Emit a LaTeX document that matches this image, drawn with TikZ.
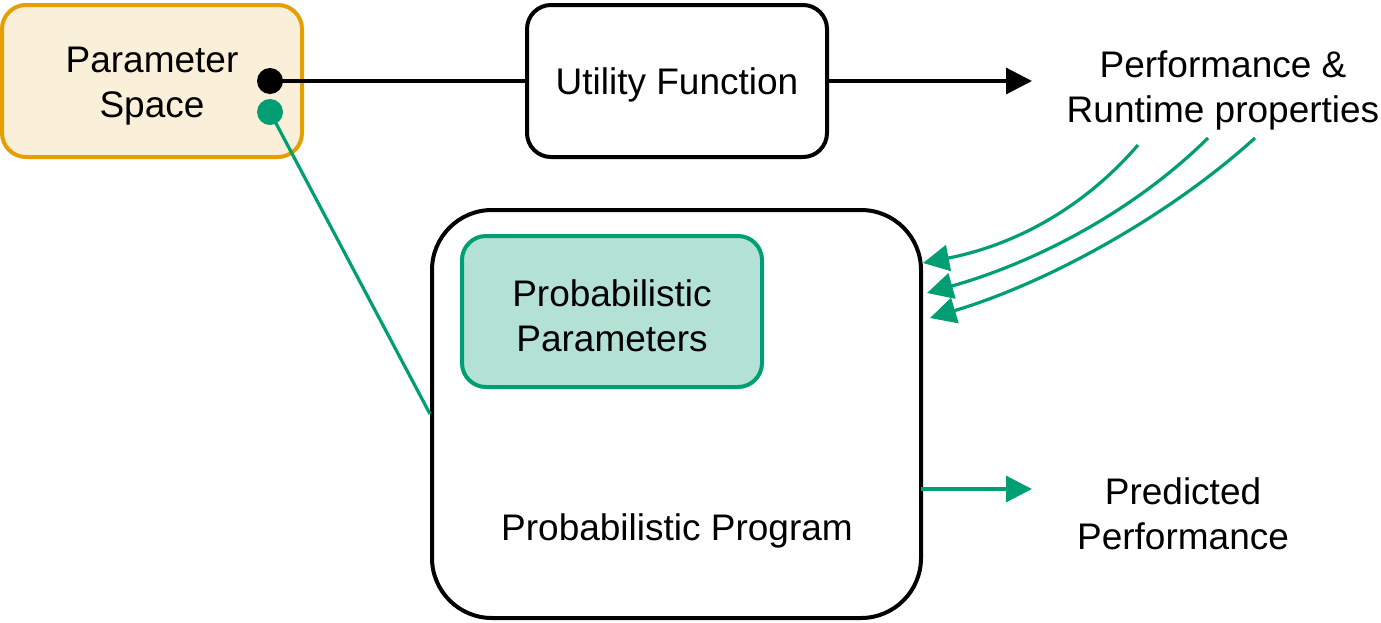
\documentclass[tikz,border=0pt]{standalone}
\usepackage{fontspec}
\setmainfont{Liberation Sans}
\usetikzlibrary{arrows.meta}
\definecolor{paramfill}{HTML}{FAF0DA}
\definecolor{paramedge}{HTML}{E69F00}
\definecolor{mint}{HTML}{B3E2D5}
\definecolor{leaf}{HTML}{009E73}
\begin{document}
\begin{tikzpicture}[x=0.5pt,y=-0.5pt,
  every node/.style={font=\fontsize{18.5}{22.5}\selectfont, align=center},
  box/.style={draw, line width=2pt, rounded corners=12pt, inner sep=0pt},
  label/.style={yshift=-2pt},
  dotnode/.style={circle, inner sep=0pt, minimum size=13pt},
  tip/.style={-{Triangle[length=13pt,width=13pt]}},
  link/.style={line width=1.6pt}]
\useasboundingbox (0,0) rectangle (1381,622);
% parameter space
\node[box, draw=paramedge, fill=paramfill, minimum width=150pt, minimum height=76pt] (space) at (152,81) {};
\node[label] (spacetxt) at (152,82) {Parameter\\Space};
\node[dotnode, fill=black] (bdot) at (270,81) {};
\node[dotnode, fill=leaf] (gdot) at (270,112) {};
% utility function
\node[box, minimum width=150pt, minimum height=76pt] (util) at (677,81) {};
\node[label] (utiltxt) at (677,81) {Utility Function};
\node[label] (perf) at (1223,86) {Performance \&\\Runtime properties};
% probabilistic program
\node[box, rounded corners=30pt, minimum width=244.5pt, minimum height=204pt] (prog) at (676.5,414) {};
\node[label] (progtxt) at (677,527) {Probabilistic Program};
\node[box, draw=leaf, fill=mint, minimum width=150pt, minimum height=75.5pt] (pp) at (612,311.5) {};
\node[label] (pptxt) at (612,312) {Probabilistic\\Parameters};
\node[label] (pred) at (1183,510) {Predicted\\Performance};
% connector ends
\coordinate (perfin) at (1032,81);
\coordinate (predout) at (921,489);
\coordinate (predin) at (1032,489);
\coordinate (fa) at (1138,145);
\coordinate (fb) at (1208,138);
\coordinate (fc) at (1255,138);
\coordinate (ta) at (923,263);
\coordinate (tb) at (927,293);
\coordinate (tc) at (930,318);
% connectors
\draw[link] (bdot.center) -- (util.west);
\draw[link, tip] (util.east) -- (perfin);
\draw[link, leaf] (gdot.center) -- (prog.west);
\draw[link, leaf, tip] (predout) -- (predin);
\draw[link, leaf, tip] (fa) .. controls (1080,212) and (1010,246) .. (ta);
\draw[link, leaf, tip] (fb) .. controls (1130,215) and (1030,264) .. (tb);
\draw[link, leaf, tip] (fc) .. controls (1170,215) and (1050,282) .. (tc);
\end{tikzpicture}
\end{document}
